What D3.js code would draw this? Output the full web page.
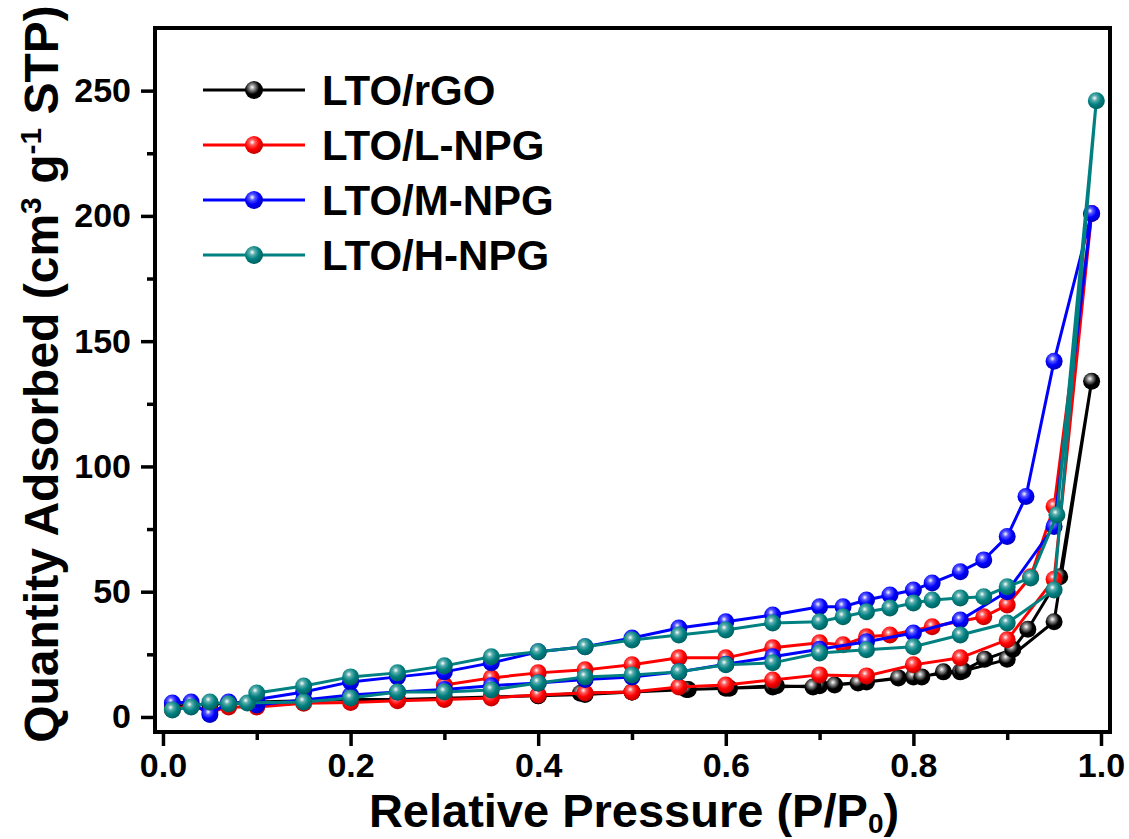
<!DOCTYPE html>
<html>
<head>
<meta charset="utf-8">
<script src="https://cdn.jsdelivr.net/npm/d3@7"></script>
<style>
  body { margin: 0; background: #fff; }
  svg text { font-family: "Liberation Sans", Arial, sans-serif; font-weight: bold; }
</style>
</head>
<body>
<div id="chart"></div>
<script>
// series names and colours
const names = ["LTO/rGO", "LTO/L-NPG", "LTO/M-NPG", "LTO/H-NPG"];
const colors = ["#000000", "#ff0000", "#0000ff", "#008080"];

// relative pressure (P/P0) and quantity adsorbed, adsorption then desorption
const rgoP = [0.01,0.03,0.05,0.07,0.1,0.15,0.2,0.25,0.3,0.35,0.4,0.45,0.5,0.56,0.6,0.65,0.7,0.75,0.8,0.85,0.9,0.95,0.99,
  0.956,0.922,0.906,0.876,0.853,0.832,0.809,0.784,0.741,0.716,0.693,0.654,0.604,0.558,0.5,0.445,0.4];
const rgoQ = [4,5,5,5.5,6,6.5,7,7,7.5,8,8.5,9,10,11,11.5,12,12.5,14,16,18,23,38,134,
  56,35,27,23,18.5,18,16,15.6,13.6,12.8,12,12.5,11.5,11,10,9.5,8.5];

const lnpgP = [0.01,0.03,0.05,0.07,0.1,0.15,0.2,0.25,0.3,0.35,0.4,0.45,0.5,0.55,0.6,0.65,0.7,0.75,0.8,0.85,0.9,0.95,0.99,
  0.95,0.925,0.9,0.875,0.82,0.775,0.75,0.725,0.7,0.65,0.6,0.55,0.5,0.45,0.4,0.35,0.3];
const lnpgQ = [3,4.5,2,4,4,5.5,5.8,6.5,7,7.6,8.8,9.6,10,12,12.8,14.8,16.8,16.4,20.8,23.6,30.8,55,201,
  84,56,44.7,40,36,32.7,32,28.8,29.6,27.6,23.6,23.6,20.8,18.8,17.6,15.6,12.8];

const mnpgP = [0.01,0.03,0.05,0.07,0.1,0.15,0.2,0.25,0.3,0.35,0.4,0.45,0.5,0.55,0.6,0.65,0.7,0.75,0.8,0.85,0.9,0.95,0.99,
  0.95,0.92,0.9,0.875,0.85,0.82,0.8,0.775,0.75,0.725,0.7,0.65,0.6,0.55,0.5,0.45,0.4,0.35,0.3,0.25,0.2,0.15,0.1];
const mnpgQ = [5.6,6,1,6,4.8,6.8,8.8,10,11,12.5,13.6,15,16,18,21,24,27,30,33.5,38.7,50,76,201,
  142,88,72,62.7,58,53.5,50.7,48.7,46.7,44,44,40.7,38,35.5,31.5,28,26,21.6,18,16,14,10,7];

const hnpgP = [0.01,0.03,0.05,0.07,0.09,0.15,0.2,0.25,0.3,0.35,0.4,0.45,0.5,0.55,0.6,0.65,0.7,0.75,0.8,0.85,0.9,0.95,0.995,
  0.953,0.925,0.9,0.875,0.85,0.82,0.8,0.775,0.75,0.725,0.7,0.65,0.6,0.55,0.5,0.45,0.4,0.35,0.3,0.25,0.2,0.15,0.1];
const hnpgQ = [2.8,4,6,5.2,5.6,6,7.6,10,10,10.8,13.6,16,16.8,18,20.8,21.6,25.5,26.8,28,32.7,37.5,50.7,246,
  80.7,55.5,52,48,47.5,46.7,45.5,43.5,42,40,38,37.5,34.7,32.7,30.7,28,26,24,20.4,17.6,16,12.4,9.6];

const xMajor = [0, 0.2, 0.4, 0.6, 0.8, 1.0];
const xMinor = [0.1, 0.3, 0.5, 0.7, 0.9];
const yMajor = [0, 50, 100, 150, 200, 250];
const yMinor = [25, 75, 125, 175, 225];

const seriesP = [rgoP, lnpgP, mnpgP, hnpgP];
const seriesQ = [rgoQ, lnpgQ, mnpgQ, hnpgQ];

const W = 1129, H = 839;
const frame = {left: 155, right: 1110, top: 28, bottom: 732};

const svg = d3.select("#chart").append("svg")
    .attr("width", W).attr("height", H);

const x = d3.scaleLinear().domain([-0.0085, 1.0096]).range([frame.left, frame.right]);
const y = d3.scaleLinear().domain([-6, 275]).range([frame.bottom, frame.top]);

// shaded ball markers
const defs = svg.append("defs");
colors.forEach((c, i) => {
  const g = defs.append("radialGradient").attr("id", "ball" + i)
      .attr("cx", "40%").attr("cy", "35%").attr("r", "65%");
  g.append("stop").attr("offset", "0%").attr("stop-color", "#ffffff");
  g.append("stop").attr("offset", "25%").attr("stop-color", i === 0 ? "#888888" : d3.interpolateRgb(c, "#fff")(0.35));
  g.append("stop").attr("offset", "60%").attr("stop-color", c);
  g.append("stop").attr("offset", "100%").attr("stop-color", d3.color(c).darker(0.8));
});

// axes: major ticks with labels, minor without
function styleAxis(g) {
  g.select(".domain").remove();
  g.selectAll(".tick line").attr("stroke", "#000").attr("stroke-width", 3.5);
  g.selectAll(".tick text").attr("fill", "#000").style("font-size", "34px");
}
svg.append("g").attr("transform", `translate(0,${frame.bottom})`)
  .call(d3.axisBottom(x).tickValues(xMajor).tickFormat(d3.format(".1f")).tickSize(14).tickPadding(7))
  .call(styleAxis);
svg.append("g").attr("transform", `translate(0,${frame.bottom})`)
  .call(d3.axisBottom(x).tickValues(xMinor).tickFormat("").tickSize(8))
  .call(styleAxis);
svg.append("g").attr("transform", `translate(${frame.left},0)`)
  .call(d3.axisLeft(y).tickValues(yMajor).tickSize(14).tickPadding(10))
  .call(styleAxis);
svg.append("g").attr("transform", `translate(${frame.left},0)`)
  .call(d3.axisLeft(y).tickValues(yMinor).tickFormat("").tickSize(8))
  .call(styleAxis);

// data
const line = d3.line().x(d => x(d[0])).y(d => y(d[1]));
seriesP.forEach((ps, i) => {
  const pts = ps.map((p, j) => [p, seriesQ[i][j]]);
  const g = svg.append("g");
  g.append("path").datum(pts)
    .attr("fill", "none").attr("stroke", colors[i]).attr("stroke-width", 3)
    .attr("d", line);
  g.selectAll("circle").data(pts).join("circle")
    .attr("cx", d => x(d[0])).attr("cy", d => y(d[1])).attr("r", 8.5)
    .attr("fill", `url(#ball${i})`);
});

// frame
svg.append("rect")
  .attr("x", frame.left).attr("y", frame.top)
  .attr("width", frame.right - frame.left).attr("height", frame.bottom - frame.top)
  .attr("fill", "none").attr("stroke", "#000").attr("stroke-width", 4);

// legend
const leg = svg.append("g");
names.forEach((n, i) => {
  const ly = 90 + i * 55;
  leg.append("line").attr("x1", 203).attr("x2", 305).attr("y1", ly).attr("y2", ly)
    .attr("stroke", colors[i]).attr("stroke-width", 3);
  leg.append("circle").attr("cx", 254).attr("cy", ly).attr("r", 9).attr("fill", `url(#ball${i})`);
  leg.append("text").attr("x", 322).attr("y", ly).attr("dy", "0.36em")
    .style("font-size", "42px").text(n);
});

// axis titles
const xt = svg.append("text").attr("x", 634).attr("y", 827).attr("text-anchor", "middle")
  .style("font-size", "47px");
xt.append("tspan").text("Relative Pressure (P/P");
xt.append("tspan").attr("dy", 6).style("font-size", "28px").text("0");
xt.append("tspan").attr("dy", -6).text(")");

const yt = svg.append("text").attr("transform", "translate(58,374) rotate(-90)")
  .attr("text-anchor", "middle").style("font-size", "48px");
yt.append("tspan").text("Quantity Adsorbed (cm");
yt.append("tspan").attr("dy", -17).style("font-size", "30px").text("3");
yt.append("tspan").attr("dy", 17).text(" g");
yt.append("tspan").attr("dy", -17).style("font-size", "30px").text("-1");
yt.append("tspan").attr("dy", 17).text(" STP)");
</script>
</body>
</html>
